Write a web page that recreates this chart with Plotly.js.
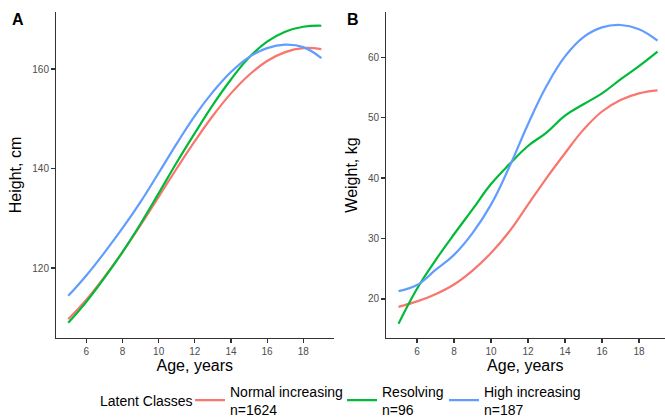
<!DOCTYPE html>
<html>
<head>
<meta charset="utf-8">
<script src="https://cdn.plot.ly/plotly-3.0.1.min.js"></script>
<style>html,body{margin:0;padding:0;background:#fff;}#chart{width:665px;height:420px;}</style>
</head>
<body>
<div id="chart"></div>
<script>
// Ages (years)
const ages = [5, 6, 7, 8, 9, 10, 11, 12, 13, 14, 15, 16, 17, 18, 19];

// Panel A: Height, cm
const heightNormal    = [109.7, 113.6, 118.2, 123.2, 128.6, 134.3, 140.0, 145.5, 150.6, 155.1, 158.8, 161.6, 163.4, 164.2, 164.0];
const heightResolving = [109.0, 113.2, 118.0, 123.2, 128.9, 135.0, 141.2, 147.1, 152.8, 157.9, 162.3, 165.5, 167.5, 168.5, 168.7];
const heightHigh      = [114.4, 118.5, 123.1, 128.0, 133.3, 139.1, 145.0, 150.6, 155.4, 159.4, 162.4, 164.2, 164.9, 164.4, 162.2];

// Panel B: Weight, kg
const weightNormal    = [18.7, 19.6, 20.8, 22.4, 24.7, 27.6, 31.2, 35.6, 40.0, 44.1, 48.0, 51.0, 52.9, 54.0, 54.5];
const weightResolving = [15.9, 21.7, 26.4, 30.7, 34.8, 39.0, 42.3, 45.3, 47.5, 50.3, 52.2, 54.0, 56.3, 58.5, 60.9];
const weightHigh      = [21.3, 22.3, 24.8, 27.3, 30.9, 35.6, 41.9, 48.9, 55.2, 60.1, 63.3, 64.9, 65.3, 64.6, 62.7];

const classNames = ["Normal increasing<br>n=1624", "Resolving<br>n=96", "High increasing<br>n=187"];
const classColors = ["#F8766D", "#00BA38", "#619CFF"];
const legendTitle = "Latent Classes";

const xTicks = [6, 8, 10, 12, 14, 16, 18];
const heightTicks = [120, 140, 160];
const weightTicks = [20, 30, 40, 50, 60];

const FONT = "'Liberation Sans', Arial, Helvetica, sans-serif";

const heightSeries = [heightNormal, heightResolving, heightHigh];
const weightSeries = [weightNormal, weightResolving, weightHigh];
const legendWidths = [107, 57, 96];

const traces = [];
heightSeries.forEach((ys, i) => {
  traces.push({
    x: ages, y: ys, type: 'scatter', mode: 'lines',
    line: {color: classColors[i], width: 2.2, shape: 'spline', smoothing: 1.2},
    name: classNames[i], legendgroup: 'g' + i, showlegend: true, legendwidth: legendWidths[i],
    xaxis: 'x', yaxis: 'y', hoverinfo: 'x+y'
  });
});
weightSeries.forEach((ys, i) => {
  traces.push({
    x: ages, y: ys, type: 'scatter', mode: 'lines',
    line: {color: classColors[i], width: 2.2, shape: 'spline', smoothing: 1.2},
    name: classNames[i], legendgroup: 'g' + i, showlegend: false,
    xaxis: 'x2', yaxis: 'y2', hoverinfo: 'x+y'
  });
});

const W = 665, H = 420;
const axisCommon = {
  showline: true, linecolor: '#333333', linewidth: 1.1,
  ticks: 'outside', ticklen: 3.5, tickwidth: 1.1, tickcolor: '#333333',
  showgrid: false, zeroline: false,
  tickfont: {family: FONT, size: 10, color: '#4D4D4D'},
  tickmode: 'array'
};
const titleFont = {family: FONT, size: 16, color: '#000000'};

const layout = {
  width: W, height: H,
  margin: {l: 0, r: 0, t: 0, b: 0, pad: 0, autoexpand: false},
  paper_bgcolor: '#ffffff', plot_bgcolor: '#ffffff',
  font: {family: FONT, color: '#000000'},
  xaxis: Object.assign({}, axisCommon, {
    domain: [55.6 / W, 334 / W], range: [4.3, 19.7], tickvals: xTicks, anchor: 'y',
    title: {text: 'Age, years', font: titleFont, standoff: 2}
  }),
  yaxis: Object.assign({}, axisCommon, {
    domain: [1 - 338 / H, 1 - 12 / H], range: [105.93, 171.46], tickvals: heightTicks, anchor: 'x',
    title: {text: 'Height, cm', font: titleFont, standoff: 6}
  }),
  xaxis2: Object.assign({}, axisCommon, {
    domain: [385.7 / W, 1], range: [4.308, 19.405], tickvals: xTicks, anchor: 'y2',
    title: {text: 'Age, years', font: titleFont, standoff: 2}
  }),
  yaxis2: Object.assign({}, axisCommon, {
    domain: [1 - 338 / H, 1 - 12 / H], range: [13.55, 67.45], tickvals: weightTicks, anchor: 'x2',
    title: {text: 'Weight, kg', font: titleFont, standoff: 6}
  }),
  showlegend: true,
  legend: {
    orientation: 'h', x: 190 / W, xanchor: 'left', y: -5.5 / H, yanchor: 'bottom',
    font: {family: FONT, size: 14, color: '#000000'},
    bgcolor: 'rgba(0,0,0,0)', borderwidth: 0, itemwidth: 30, traceorder: 'normal', valign: 'middle'
  },
  annotations: [
    {text: '<b>A</b>', xref: 'paper', yref: 'paper', x: 10 / W, y: 1 - 9 / H, xanchor: 'left', yanchor: 'top',
     showarrow: false, font: {family: FONT, size: 16, color: '#000000'}},
    {text: '<b>B</b>', xref: 'paper', yref: 'paper', x: 345 / W, y: 1 - 9 / H, xanchor: 'left', yanchor: 'top',
     showarrow: false, font: {family: FONT, size: 16, color: '#000000'}},
    {text: legendTitle, xref: 'paper', yref: 'paper', x: 98 / W, y: 1 - 401 / H, xanchor: 'left', yanchor: 'middle',
     showarrow: false, font: {family: FONT, size: 14, color: '#000000'}}
  ]
};

Plotly.newPlot('chart', traces, layout, {displayModeBar: false, staticPlot: true});
</script>
</body>
</html>
